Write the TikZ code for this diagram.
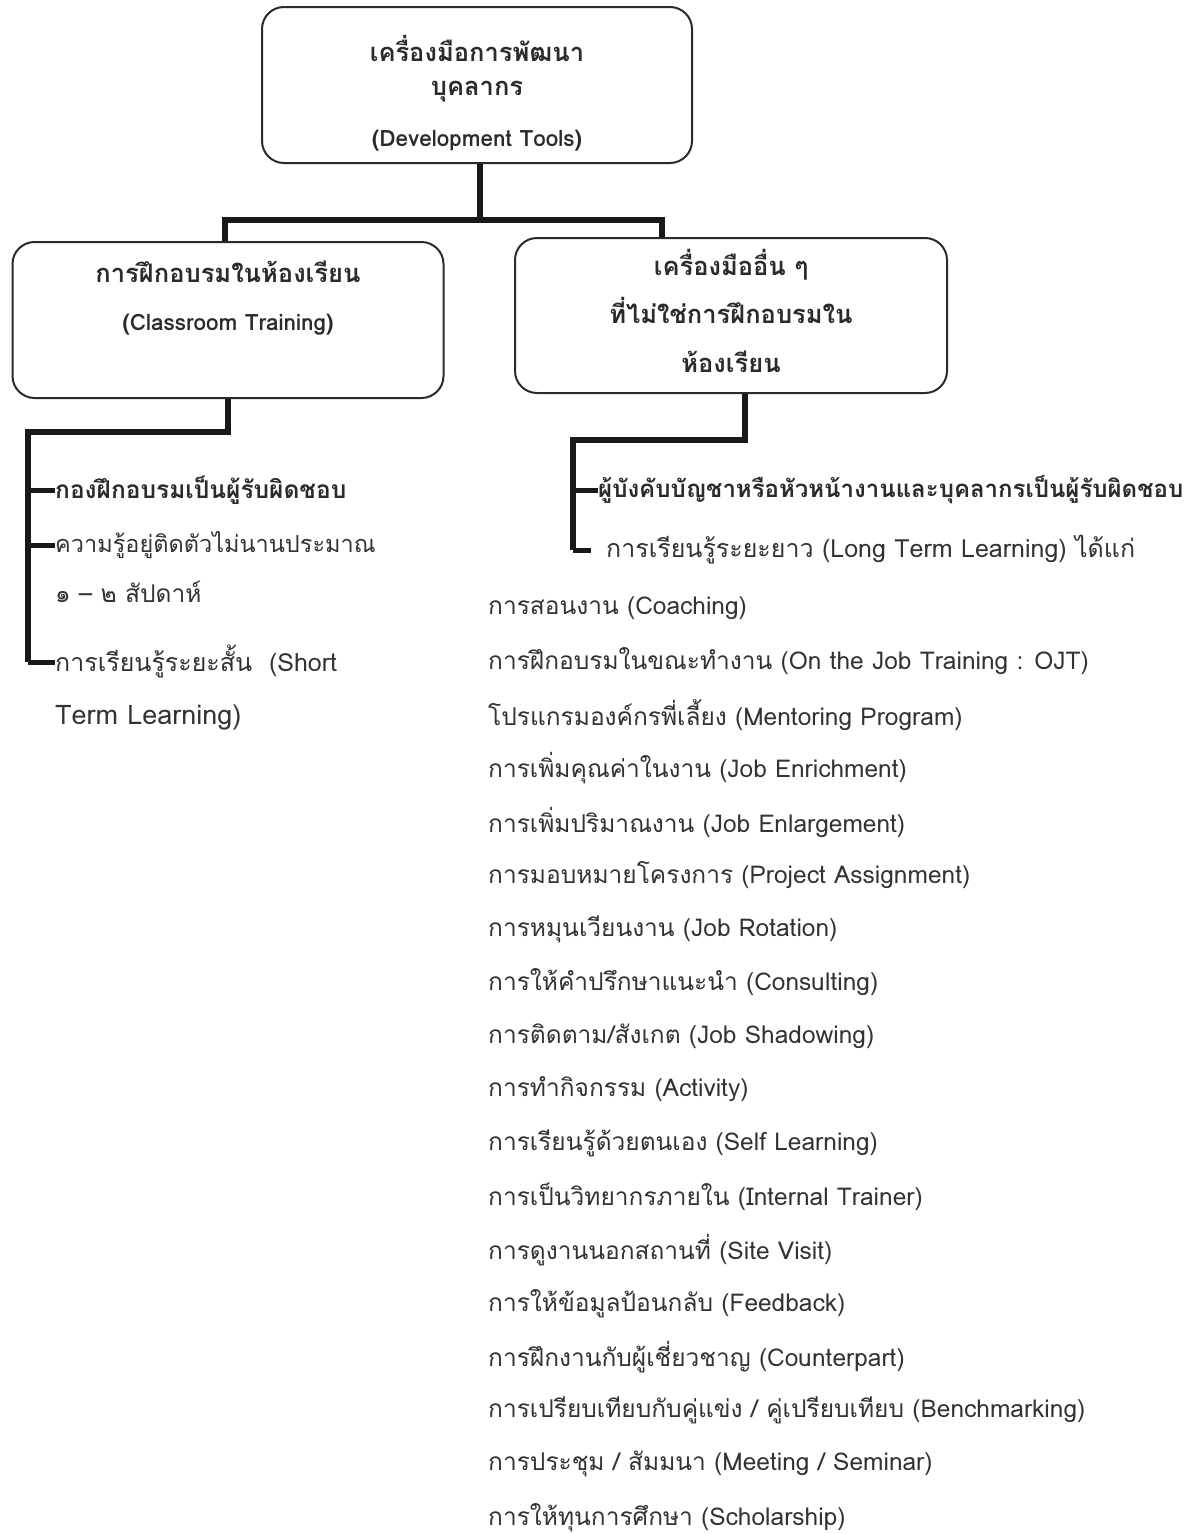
\documentclass[tikz,border=0pt]{standalone}
\usepackage{fontspec}
\newfontfamily\thai[Script=Thai]{Loma}
\definecolor{ink}{HTML}{2B2B2B}
\definecolor{txt}{HTML}{333333}
\tikzset{
  box/.style={draw=ink, line width=2pt, rounded corners=22pt, rectangle, inner sep=0pt},
  conn/.style={draw=black!90, line width=6.5pt},
  tick/.style={draw=black!90, line width=5pt},
  boxtxt/.style={font=\thai\bfseries\fontsize{25.5}{28}\selectfont, text=ink, inner sep=0pt, anchor=center},
  boxeng/.style={font=\thai\bfseries\fontsize{22.5}{25}\selectfont, text=ink, inner sep=0pt, anchor=center},
  itemb/.style={font=\thai\bfseries\fontsize{24}{27}\selectfont, text=ink, inner sep=0pt, anchor=west},
  item/.style={font=\thai\fontsize{24.5}{27}\selectfont, text=txt, inner sep=0pt, anchor=west},
}
\begin{document}
\begin{tikzpicture}[x=1pt,y=-1pt]
\fill[white] (0,0) rectangle (1194,1534);
\useasboundingbox (0,0) rectangle (1194,1534);

% boxes
\node[box, minimum width=430pt, minimum height=156pt] (top) at (477,85) {};
\node[box, minimum width=431pt, minimum height=156pt] (cls) at (228,320) {};
\node[box, minimum width=432pt, minimum height=155pt] (oth) at (731,315.5) {};

% box texts
\node[boxtxt] (top1) at (477,48) {เครื่องมือการพัฒนา};
\node[boxtxt] (top2) at (477,92) {บุคลากร};
\node[boxeng] (top3) at (477,141) {(Development Tools)};
\node[boxtxt] (cls1) at (228,272) {การฝึกอบรมในห้องเรียน};
\node[boxeng] (cls2) at (228,325) {(Classroom Training)};
\node[boxtxt] (oth1) at (731,265) {เครื่องมืออื่น ๆ};
\node[boxtxt] (oth2) at (731,310) {ที่ไม่ใช่การฝึกอบรมใน};
\node[boxtxt] (oth3) at (731,362) {ห้องเรียน};

% tree connectors
\coordinate (jt) at (480,220);
\coordinate (jl) at (225,220);
\coordinate (jr) at (662,220);
\draw[conn, line width=5.5pt] (top.south -| jt) -- (jt);
\draw[conn, line cap=rect] (jl) -- (jr);
\draw[conn] (jl) -- (jl |- cls.north);
\draw[conn] (jr) -- (jr |- oth.north);

% left bracket
\coordinate (lb0) at (228,432);
\coordinate (lb1) at (28,432);
\coordinate (lb2) at (28,662);
\draw[conn] (cls.south -| lb0) -- (lb0) -- (lb1) -- (lb2);

% left texts
\node[itemb, font=\thai\bfseries\fontsize{24.5}{27}\selectfont] (L1) at (55,490) {กองฝึกอบรมเป็นผู้รับผิดชอบ};
\node[item, font=\thai\fontsize{23.5}{27}\selectfont] (L2) at (55,545) {ความรู้อยู่ติดตัวไม่นานประมาณ};
\node[item] (L2b) at (55,592) {๑ – ๒ สัปดาห์};
\node[item, font=\thai\fontsize{25}{27}\selectfont] (L3) at (55,662) {การเรียนรู้ระยะสั้น\ \ (Short};
\node[item, font=\thai\fontsize{27}{30}\selectfont] (L3b) at (55,718) {Term Learning)};
\draw[tick] (lb1 |- L1.west) -- (L1.west);
\draw[tick] (lb1 |- L2.west) -- (L2.west);
\draw[tick] (lb1 |- L3.west) -- (L3.west);

% right bracket
\coordinate (rb0) at (745,440);
\coordinate (rb1) at (573,440);
\coordinate (rb2) at (573,550);
\draw[conn] (oth.south -| rb0) -- (rb0) -- (rb1) -- (rb2);

\node[itemb] (R1) at (598,490) {ผู้บังคับบัญชาหรือหัวหน้างานและบุคลากรเป็นผู้รับผิดชอบ};
\node[item, font=\thai\fontsize{25}{27}\selectfont] (R2) at (606,550) {การเรียนรู้ระยะยาว (Long Term Learning) ได้แก่};
\draw[tick] (rb1 |- R1.west) -- (R1.west);
\draw[tick] (rb1 |- R2.west) -- ++(18,0);

% list
\foreach \t [count=\i] in {
  {การสอนงาน (Coaching)},
  {การฝึกอบรมในขณะทำงาน (On the Job Training : OJT)},
  {โปรแกรมองค์กรพี่เลี้ยง (Mentoring Program)},
  {การเพิ่มคุณค่าในงาน (Job Enrichment)},
  {การเพิ่มปริมาณงาน (Job Enlargement)},
  {การมอบหมายโครงการ (Project Assignment)},
  {การหมุนเวียนงาน (Job Rotation)},
  {การให้คำปรึกษาแนะนำ (Consulting)},
  {การติดตาม/สังเกต (Job Shadowing)},
  {การทำกิจกรรม (Activity)},
  {การเรียนรู้ด้วยตนเอง (Self Learning)},
  {การเป็นวิทยากรภายใน (Internal Trainer)},
  {การดูงานนอกสถานที่ (Site Visit)},
  {การให้ข้อมูลป้อนกลับ (Feedback)},
  {การฝึกงานกับผู้เชี่ยวชาญ (Counterpart)},
  {การเปรียบเทียบกับคู่แข่ง / คู่เปรียบเทียบ (Benchmarking)},
  {การประชุม / สัมมนา (Meeting / Seminar)},
  {การให้ทุนการศึกษา (Scholarship)}}
  \node[item] (it\i) at (488,{608+53.5*(\i-1)}) {\t};
\end{tikzpicture}
\end{document}
